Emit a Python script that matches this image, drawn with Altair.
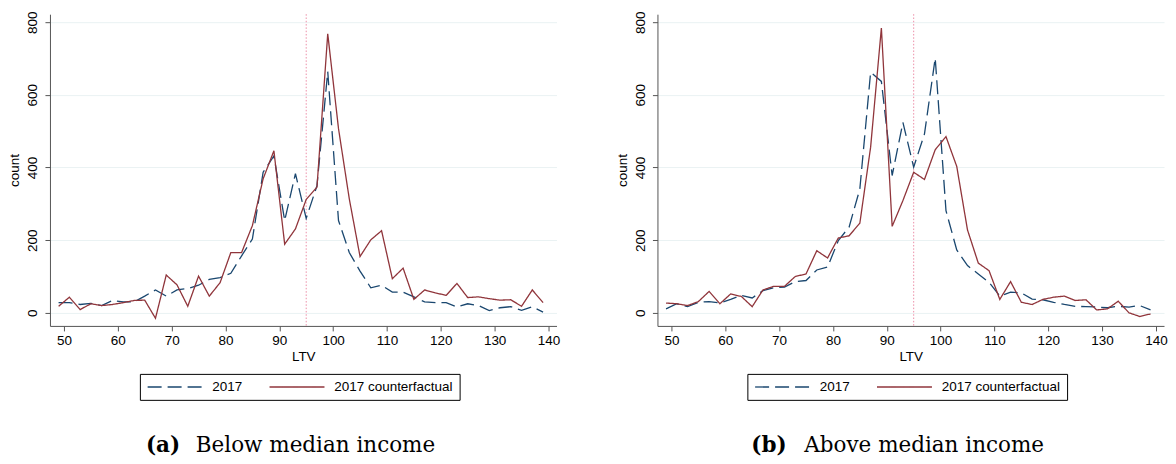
import altair as alt
import pandas as pd

ltv = list(range(49, 140, 2))

below_2017 = [28, 28, 23, 26, 20, 34, 30, 30, 46, 63, 46, 63, 67, 76, 92, 97, 109, 157, 203, 387, 432,
              254, 383, 260, 350, 664, 254, 166, 115, 69, 76, 57, 57, 44, 30, 28, 28, 16, 25, 20, 6, 14, 17, 7, 17, 2]
below_cf = [18, 43, 9, 25, 20, 23, 28, 34, 35, -15, 104, 77, 18, 101, 46, 83, 166, 166, 240, 369, 446,
            189, 231, 312, 346, 768, 507, 314, 155, 201, 226, 94, 123, 37, 63, 55, 48, 81, 42, 44, 39, 35, 36, 18, 63, 28]
above_2017 = [11, 25, 17, 29, 31, 27, 37, 48, 41, 61, 69, 71, 86, 89, 118, 126, 199, 236, 341, 662, 637,
              378, 524, 401, 492, 701, 281, 173, 130, 107, 84, 46, 57, 55, 38, 36, 29, 23, 18, 17, 16, 14, 18, 16, 20, 8]
above_cf = [27, 25, 20, 31, 59, 25, 52, 45, 17, 63, 73, 73, 100, 107, 171, 151, 206, 212, 247, 456, 784,
            238, 309, 387, 367, 449, 485, 403, 228, 137, 116, 37, 86, 29, 23, 37, 43, 46, 34, 36, 8, 11, 32, 0, -10, -3]

series_names = ["2017", "2017 counterfactual"]
cutoff = [95]
x_ticks = [50, 60, 70, 80, 90, 100, 110, 120, 130, 140]
y_ticks = [0, 200, 400, 600, 800]
captions = ["(a)", "Below median income", "(b)", "Above median income"]

NAVY = "#1a476f"
MAROON = "#90353b"
FONT = "Liberation Sans"
W, H = 507, 312


def panel(blue, red):
    df = pd.DataFrame({
        "LTV": ltv + ltv,
        "count": blue + red,
        "series": [series_names[0]] * len(ltv) + [series_names[1]] * len(ltv),
    })
    leg = alt.Legend(title=None, orient="none", legendX=90, legendY=360, direction="horizontal")
    lines = alt.Chart(df).mark_line(strokeWidth=1.3).encode(
        x=alt.X("LTV:Q", scale=alt.Scale(domain=[47.4, 141.5], nice=False, zero=False),
                axis=alt.Axis(values=x_ticks, grid=False, title="LTV", labelFlush=False)),
        y=alt.Y("count:Q", scale=alt.Scale(domain=[-36, 822], nice=False, zero=False),
                axis=alt.Axis(values=y_ticks, grid=True, title="count", labelAngle=270,
                              labelAlign="center", labelBaseline="bottom")),
        color=alt.Color("series:N", scale=alt.Scale(domain=series_names, range=[NAVY, MAROON]), legend=leg),
        strokeDash=alt.StrokeDash("series:N", scale=alt.Scale(domain=series_names, range=[[14, 6], [1, 0]]),
                                  legend=leg),
    )
    rule = alt.Chart(pd.DataFrame({"c": cutoff})).mark_rule(
        color="#ec8fa8", strokeDash=[1.5, 1.8], strokeWidth=1
    ).encode(x=alt.X("c:Q"))
    return alt.layer(rule, lines).properties(width=W, height=H)


left = panel(below_2017, below_cf)
right = panel(above_2017, above_cf)

row = alt.hconcat(left, right, spacing=55).resolve_scale(color="independent", strokeDash="independent")

cap_base = alt.Chart(pd.DataFrame({"k": [0]}))
cap_positions = [96, 146, 702, 755]
cap_layers = []
for i, t in enumerate(captions):
    bold = (i % 2 == 0)
    cap_layers.append(
        cap_base.mark_text(align="left", baseline="alphabetic", font="DejaVu Serif", fontSize=21.5,
                           fontWeight="bold" if bold else "normal", color="black").encode(
            x=alt.value(cap_positions[i]), y=alt.value(46), text=alt.value(t))
    )
caption = alt.layer(*cap_layers).properties(width=1100, height=49)

chart = alt.vconcat(row, caption, spacing=5).properties(
    padding={"left": 0, "top": 2, "right": 0, "bottom": 0}
).configure_view(stroke=None).configure_axis(
    labelFont=FONT, titleFont=FONT, labelFontSize=13.5, titleFontSize=13.5,
    titleFontWeight="normal", labelColor="black", titleColor="black",
    domainColor="#555555", tickColor="#555555", tickSize=5, gridColor="#eaf2f3", gridWidth=1,
).configure_axisY(labelPadding=5, titlePadding=4).configure_axisX(labelPadding=3, titlePadding=2).configure_legend(
    strokeColor="black", padding=6,
    symbolType="M-5.5,0H5.5", symbolSize=100, symbolOffset=22.5, symbolStrokeWidth=1.3,
    labelFont=FONT, labelFontSize=13.5, labelColor="black", columnPadding=24, labelOffset=30.5,
    labelLimit=300,
)

chart.save("out.html", embed_options={"renderer": "svg", "actions": False})
